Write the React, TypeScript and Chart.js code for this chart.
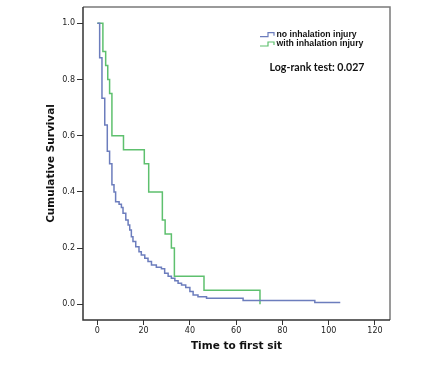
import React, { useEffect, useRef } from "react";
import { Chart, registerables } from "chart.js";

Chart.register(...registerables);

// Kaplan-Meier step data (time, cumulative survival)
const noInjuryTimes = [0, 1, 2, 3.2, 4.3, 5.3, 6.3, 7.2, 7.9, 9.4, 10.4, 11.1, 12.3, 13.3, 14, 14.7, 15.4, 16.6, 18, 19, 20.5, 21.9, 23.4, 25.5, 27.7, 29.1, 30.6, 32, 33.5, 34.9, 36.4, 38.2, 40, 41.4, 43.5, 47.2, 63, 94, 105];
const noInjurySurvival = [1.0, 0.877, 0.733, 0.638, 0.545, 0.5, 0.425, 0.4, 0.365, 0.356, 0.344, 0.324, 0.3, 0.282, 0.264, 0.24, 0.223, 0.205, 0.187, 0.175, 0.164, 0.152, 0.14, 0.132, 0.126, 0.11, 0.1, 0.093, 0.084, 0.075, 0.069, 0.06, 0.045, 0.033, 0.027, 0.021, 0.013, 0.006, 0.006];

const injuryTimes = [0, 2.4, 3.6, 4.5, 5.3, 6.3, 11.3, 20.3, 22.2, 28.1, 29.3, 32, 33.3, 46.1, 70.3];
const injurySurvival = [1.0, 0.9, 0.85, 0.8, 0.75, 0.6, 0.55, 0.5, 0.4, 0.3, 0.25, 0.2, 0.1, 0.05, 0.0];

const seriesLabels = ["no inhalation injury", "with inhalation injury"];
const seriesColors = ["#6c7dbd", "#5ec06e"];
const yTicks = [0, 0.2, 0.4, 0.6, 0.8, 1.0];
const xTicks = [0, 20, 40, 60, 80, 100, 120];
const xTitle = "Time to first sit";
const yTitle = "Cumulative Survival";
const testText = "Log-rank test: 0.027";

const toPoints = (ts: number[], ss: number[]) => ts.map((t, i) => ({ x: t, y: ss[i] }));

const boxPlugin = {
  id: "boxAndLegend",
  afterDatasetsDraw(chart: any) {
    const { ctx, chartArea: a } = chart;
    ctx.save();
    ctx.lineWidth = 1.5;
    ctx.strokeStyle = "#7a7a7a";
    ctx.beginPath();
    ctx.moveTo(a.left, a.top);
    ctx.lineTo(a.right, a.top);
    ctx.lineTo(a.right, a.bottom);
    ctx.stroke();
    ctx.strokeStyle = "#333";
    ctx.beginPath();
    ctx.moveTo(a.left, a.top);
    ctx.lineTo(a.left, a.bottom);
    ctx.lineTo(a.right, a.bottom);
    ctx.stroke();

    // legend
    const lx = a.left + 177;
    const rows = [a.top + 27.7, a.top + 37];
    ctx.font = "bold 8.7px 'Liberation Sans'";
    ctx.textBaseline = "middle";
    ctx.textAlign = "left";
    seriesLabels.forEach((lab, i) => {
      const y = rows[i];
      ctx.strokeStyle = seriesColors[i];
      ctx.lineWidth = 1.2;
      ctx.beginPath();
      ctx.moveTo(lx, y + 2);
      ctx.lineTo(lx + 8, y + 2);
      ctx.lineTo(lx + 8, y - 2);
      ctx.lineTo(lx + 14, y - 2);
      ctx.lineTo(lx + 14, y + 1);
      ctx.stroke();
      ctx.fillStyle = "#111";
      ctx.fillText(lab, lx + 16.5, y);
    });

    ctx.font = "bold 10.6px Lato";
    ctx.textAlign = "center";
    ctx.fillStyle = "#111";
    ctx.fillText(testText, a.left + 234, a.top + 60.7);
    ctx.restore();
  },
};

export default function App() {
  const ref = useRef<HTMLCanvasElement>(null);
  useEffect(() => {
    if (!ref.current) return;
    const tickFont = { family: "'DejaVu Sans'", size: 8 };
    const titleFont = { family: "'DejaVu Sans'", size: 10.5, weight: "bold" as const };
    const chart = new Chart(ref.current, {
      type: "line",
      data: {
        datasets: [
          {
            label: seriesLabels[0],
            data: toPoints(noInjuryTimes, noInjurySurvival),
            borderColor: seriesColors[0],
            borderWidth: 1.5,
            stepped: true,
            pointRadius: 0,
            fill: false,
          },
          {
            label: seriesLabels[1],
            data: toPoints(injuryTimes, injurySurvival),
            borderColor: seriesColors[1],
            borderWidth: 1.5,
            stepped: true,
            pointRadius: 0,
            fill: false,
          },
        ],
      },
      options: {
        animation: false,
        responsive: false,
        devicePixelRatio: 1,
        layout: { padding: { left: 0, right: 35, top: 7, bottom: 0 } },
        plugins: { legend: { display: false }, tooltip: { enabled: false } },
        scales: {
          x: {
            type: "linear",
            min: -6.2,
            max: 126.5,
            afterBuildTicks: (s: any) => {
              s.ticks = xTicks.map((v) => ({ value: v }));
            },
            afterFit: (s: any) => {
              s.height = 52;
            },
            grid: { drawOnChartArea: false, drawTicks: true, tickLength: 5, color: "#333" },
            border: { display: false },
            ticks: { font: tickFont, color: "#222", padding: 1, maxRotation: 0, autoSkip: false, callback: (v: any) => String(v) },
            title: { display: true, text: xTitle, font: titleFont, color: "#111", padding: { top: 0, bottom: 19 } },
          },
          y: {
            type: "linear",
            min: -0.056,
            max: 1.058,
            afterBuildTicks: (s: any) => {
              s.ticks = yTicks.map((v) => ({ value: v }));
            },
            afterFit: (s: any) => {
              s.width = 83;
            },
            grid: { drawOnChartArea: false, drawTicks: true, tickLength: 6, color: "#333" },
            border: { display: false },
            ticks: { font: tickFont, color: "#222", padding: 2, autoSkip: false, callback: (v: any) => Number(v).toFixed(1) },
            title: { display: true, text: yTitle, font: titleFont, color: "#111", padding: { top: 45, bottom: 0 } },
          },
        },
      },
      plugins: [boxPlugin],
    });
    return () => chart.destroy();
  }, []);
  return (
    <div style={{ position: "fixed", left: 0, top: 0, width: 425, height: 372, background: "#fff" }}>
      <canvas ref={ref} width={425} height={372} />
    </div>
  );
}
